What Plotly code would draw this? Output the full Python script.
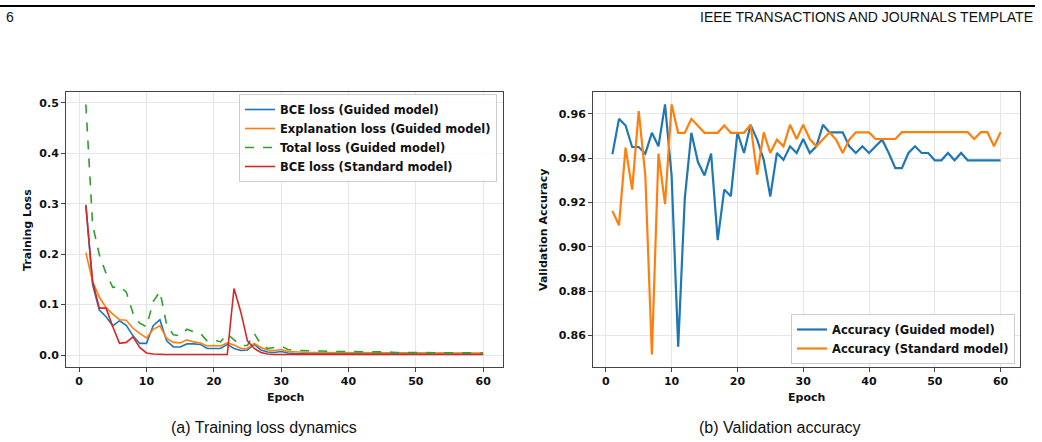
import plotly.graph_objects as go

W, H = 1042, 442

epochs = list(range(1, 61))

bce_guided = [0.298, 0.139, 0.089, 0.076, 0.058, 0.068, 0.059, 0.038, 0.023, 0.023,
              0.058, 0.070, 0.028, 0.016, 0.016, 0.022, 0.022, 0.021, 0.013, 0.013,
              0.013, 0.021, 0.013, 0.009, 0.010, 0.021, 0.010, 0.006, 0.005, 0.007,
              0.004, 0.003, 0.003, 0.003, 0.003, 0.003, 0.003, 0.003, 0.003, 0.003,
              0.002, 0.002, 0.002, 0.002, 0.002, 0.002, 0.002, 0.002, 0.002, 0.002,
              0.002, 0.002, 0.002, 0.002, 0.002, 0.002, 0.002, 0.002, 0.002, 0.002]

expl_guided = [0.203, 0.146, 0.115, 0.094, 0.081, 0.070, 0.069, 0.053, 0.043, 0.034,
               0.051, 0.058, 0.033, 0.025, 0.024, 0.030, 0.026, 0.024, 0.018, 0.019,
               0.018, 0.024, 0.020, 0.013, 0.013, 0.023, 0.015, 0.010, 0.009, 0.011,
               0.007, 0.006, 0.005, 0.005, 0.005, 0.005, 0.005, 0.005, 0.005, 0.005,
               0.004, 0.004, 0.004, 0.004, 0.004, 0.004, 0.004, 0.004, 0.004, 0.004,
               0.004, 0.004, 0.004, 0.004, 0.004, 0.004, 0.004, 0.004, 0.004, 0.004]

total_guided = [0.497, 0.258, 0.199, 0.162, 0.134, 0.136, 0.125, 0.083, 0.063, 0.056,
                0.106, 0.126, 0.060, 0.040, 0.038, 0.051, 0.046, 0.043, 0.028, 0.030,
                0.026, 0.042, 0.030, 0.019, 0.019, 0.043, 0.021, 0.013, 0.015, 0.018,
                0.011, 0.009, 0.009, 0.008, 0.008, 0.008, 0.007, 0.007, 0.007, 0.007,
                0.006, 0.006, 0.006, 0.006, 0.006, 0.006, 0.005, 0.005, 0.005, 0.005,
                0.005, 0.005, 0.005, 0.005, 0.005, 0.004, 0.004, 0.004, 0.004, 0.004]

bce_standard = [0.297, 0.146, 0.093, 0.093, 0.056, 0.023, 0.025, 0.036, 0.015, 0.004,
                0.002, 0.001, 0.001, 0.001, 0.001, 0.001, 0.001, 0.001, 0.001, 0.001,
                0.001, 0.001, 0.132, 0.086, 0.028, 0.013, 0.005, 0.002, 0.001, 0.001,
                0.001, 0.001, 0.001, 0.001, 0.001, 0.001, 0.001, 0.001, 0.001, 0.001,
                0.001, 0.001, 0.001, 0.001, 0.001, 0.001, 0.001, 0.001, 0.001, 0.001,
                0.001, 0.001, 0.001, 0.001, 0.001, 0.001, 0.001, 0.001, 0.001, 0.001]

acc_guided = [0.9417, 0.9577, 0.9547, 0.9450, 0.9450, 0.9420, 0.9514, 0.9453, 0.9642, 0.9320,
              0.8550, 0.9217, 0.9514, 0.9382, 0.9322, 0.9420, 0.9030, 0.9258, 0.9228, 0.9516,
              0.9423, 0.9550, 0.9483, 0.9392, 0.9227, 0.9423, 0.9392, 0.9453, 0.9423, 0.9486,
              0.9423, 0.9453, 0.9550, 0.9516, 0.9516, 0.9516, 0.9453, 0.9423, 0.9453, 0.9423,
              0.9453, 0.9483, 0.9423, 0.9355, 0.9355, 0.9423, 0.9453, 0.9423, 0.9423, 0.9390,
              0.9390, 0.9423, 0.9390, 0.9423, 0.9390, 0.9390, 0.9390, 0.9390, 0.9390, 0.9390]

acc_standard = [0.9162, 0.9097, 0.9447, 0.9258, 0.9612, 0.9322, 0.8514, 0.9420, 0.9192, 0.9642,
                0.9514, 0.9514, 0.9577, 0.9547, 0.9514, 0.9514, 0.9514, 0.9547, 0.9514, 0.9514,
                0.9514, 0.9550, 0.9325, 0.9516, 0.9423, 0.9483, 0.9453, 0.9550, 0.9486, 0.9550,
                0.9486, 0.9453, 0.9486, 0.9516, 0.9483, 0.9423, 0.9483, 0.9516, 0.9516, 0.9516,
                0.9486, 0.9486, 0.9486, 0.9486, 0.9517, 0.9517, 0.9517, 0.9517, 0.9517, 0.9517,
                0.9517, 0.9517, 0.9517, 0.9517, 0.9517, 0.9486, 0.9517, 0.9517, 0.9453, 0.9517]

x_ticks = [0, 10, 20, 30, 40, 50, 60]
loss_ticks = [0.0, 0.1, 0.2, 0.3, 0.4, 0.5]
acc_ticks = [0.86, 0.88, 0.90, 0.92, 0.94, 0.96]

BLUE, ORANGE, GREEN, RED = "#1f77b4", "#ff7f0e", "#2ca02c", "#d62728"
FONT = "DejaVu Sans"


def px(x):
    return x / W


def py(y):
    return 1 - y / H


fig = go.Figure()

fig.add_trace(go.Scatter(x=epochs, y=bce_guided, mode="lines", name="BCE loss (Guided model)",
                         line=dict(color=BLUE, width=1.6), xaxis="x", yaxis="y", legend="legend"))
fig.add_trace(go.Scatter(x=epochs, y=expl_guided, mode="lines", name="Explanation loss (Guided model)",
                         line=dict(color=ORANGE, width=1.6), xaxis="x", yaxis="y", legend="legend"))
fig.add_trace(go.Scatter(x=epochs, y=total_guided, mode="lines", name="Total loss (Guided model)",
                         line=dict(color=GREEN, width=1.6, dash="dash"), xaxis="x", yaxis="y", legend="legend"))
fig.add_trace(go.Scatter(x=epochs, y=bce_standard, mode="lines", name="BCE loss (Standard model)",
                         line=dict(color=RED, width=1.6), xaxis="x", yaxis="y", legend="legend"))

fig.add_trace(go.Scatter(x=epochs, y=acc_guided, mode="lines", name="Accuracy (Guided model)",
                         line=dict(color=BLUE, width=2.2), xaxis="x2", yaxis="y2", legend="legend2"))
fig.add_trace(go.Scatter(x=epochs, y=acc_standard, mode="lines", name="Accuracy (Standard model)",
                         line=dict(color=ORANGE, width=2.2), xaxis="x2", yaxis="y2", legend="legend2"))

tickfont = dict(family=FONT, size=11, color="#111", weight="bold")
axis_common = dict(showgrid=True, gridcolor="#e6e6e6", gridwidth=0.8, zeroline=False,
                   showline=True, mirror=True, linecolor="#444", linewidth=1,
                   ticks="outside", ticklen=4, tickcolor="#444", tickwidth=1,
                   tickfont=tickfont, automargin=False)

ydom = [py(367), py(92)]

fig.update_layout(
    width=W, height=H,
    margin=dict(l=0, r=0, t=0, b=0),
    paper_bgcolor="white", plot_bgcolor="white",
    xaxis=dict(domain=[px(66), px(503)], range=[-1.95, 62.95], tickvals=x_ticks,
               anchor="y", **axis_common),
    yaxis=dict(domain=ydom, range=[-0.0238, 0.5218], tickvals=loss_ticks, tickformat=".1f",
               anchor="x", **axis_common),
    xaxis2=dict(domain=[px(593), px(1020)], range=[-1.95, 62.95], tickvals=x_ticks,
                anchor="y2", **axis_common),
    yaxis2=dict(domain=ydom, range=[0.8458, 0.9698], tickvals=acc_ticks, tickformat=".2f",
                anchor="x2", **axis_common),
    legend=dict(x=px(497), y=py(94), xanchor="right", yanchor="top",
                bgcolor="rgba(255,255,255,0.85)", bordercolor="#cccccc", borderwidth=1,
                font=dict(family=FONT, size=11.5, color="#111", weight="bold"),
                tracegroupgap=0, itemwidth=30),
    legend2=dict(x=px(1015), y=py(364), xanchor="right", yanchor="bottom",
                 bgcolor="rgba(255,255,255,0.85)", bordercolor="#cccccc", borderwidth=1,
                 font=dict(family=FONT, size=11.5, color="#111", weight="bold"),
                 tracegroupgap=0, itemwidth=30),
    showlegend=True,
)

ann_font = dict(family=FONT, size=11, color="#111", weight="bold")
cap_font = dict(family="Liberation Sans", size=16, color="#111")
head_font = dict(family="Liberation Sans", size=14, color="#111")
annotations = [
    dict(text="Training Loss", x=px(27), y=py(230), textangle=-90, font=ann_font),
    dict(text="Epoch", x=px(285), y=py(397), font=ann_font),
    dict(text="Validation Accuracy", x=px(543), y=py(230), textangle=-90, font=ann_font),
    dict(text="Epoch", x=px(806), y=py(397), font=ann_font),
    dict(text="(a) Training loss dynamics", x=px(264), y=py(427), font=cap_font),
    dict(text="(b) Validation accuracy", x=px(780), y=py(427), font=cap_font),
    dict(text="6", x=px(4), y=py(17), xanchor="left", font=head_font),
    dict(text="IEEE TRANSACTIONS AND JOURNALS TEMPLATE", x=px(1035), y=py(17), xanchor="right",
         font=head_font),
]
for a in annotations:
    a.setdefault("xanchor", "center")
    a.update(xref="paper", yref="paper", yanchor="middle", showarrow=False)
fig.update_layout(annotations=annotations)

fig.add_shape(type="line", xref="paper", yref="paper", x0=0, x1=px(1035), y0=py(6), y1=py(6),
              line=dict(color="black", width=2))

fig.write_html("out.html")
